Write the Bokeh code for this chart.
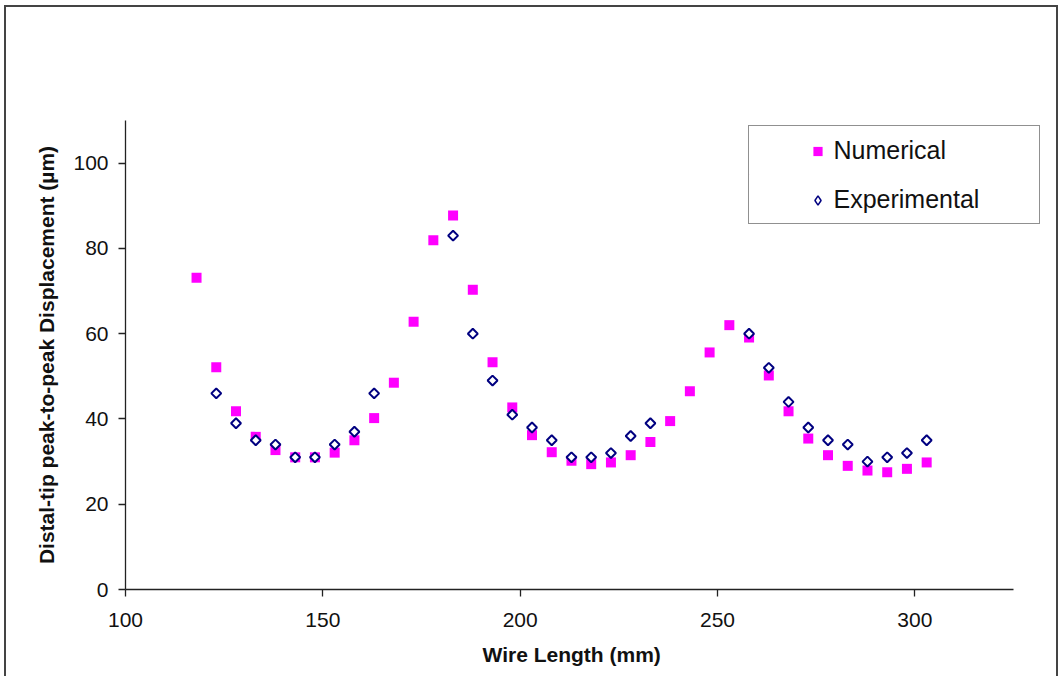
import math
from bokeh.plotting import figure
from bokeh.models import Range1d, FixedTicker, Legend, LegendItem, Title
from bokeh.embed import file_html
from bokeh.resources import INLINE

# ---- data ----
num_x = [118, 123, 128, 133, 138, 143, 148, 153, 158, 163, 168, 173, 178, 183, 188,
         193, 198, 203, 208, 213, 218, 223, 228, 233, 238, 243, 248, 253, 258, 263,
         268, 273, 278, 283, 288, 293, 298, 303]
num_y = [73.1, 52.1, 41.8, 35.8, 32.7, 31.0, 31.0, 32.1, 35.0, 40.2, 48.5, 62.8, 81.9,
         87.7, 70.3, 53.3, 42.7, 36.2, 32.2, 30.2, 29.4, 29.8, 31.5, 34.6, 39.5, 46.5,
         55.6, 62.0, 59.1, 50.2, 41.8, 35.4, 31.5, 29.0, 27.9, 27.5, 28.3, 29.8]

exp_x = [123, 128, 133, 138, 143, 148, 153, 158, 163,
         183, 188, 193, 198, 203, 208, 213, 218, 223, 228, 233,
         258, 263, 268, 273, 278, 283, 288, 293, 298, 303]
exp_y = [46, 39, 35, 34, 31, 31, 34, 37, 46,
         83, 60, 49, 41, 38, 35, 31, 31, 32, 36, 39,
         60, 52, 44, 38, 35, 34, 30, 31, 32, 35]

x_ticks = [100, 150, 200, 250, 300]
y_ticks = [0, 20, 40, 60, 80, 100]
x_axis_bounds = (100, 325)

FONT = "Liberation Sans"
INK = "#111111"

# frame extends past the axis end so the legend box (which overhangs the axis) is not clipped
X_PER_PX = 225 / 888.0
x_end = 325 + 32 * X_PER_PX

p = figure(width=1058, height=676, x_range=Range1d(100, x_end), y_range=Range1d(0, 110),
           output_backend="svg", toolbar_location=None,
           min_border_left=125, min_border_right=13, min_border_top=120, min_border_bottom=86)
p.outline_line_color = None
p.xgrid.visible = False
p.ygrid.visible = False
p.border_fill_color = None
p.background_fill_color = None
p.styles = {"box-shadow": ("inset 4px 5px 0 0 #ffffff, inset 6px 7px 0 0 #444444, "
                           "inset -2px 0 0 0 #444444")}

for ax in (p.xaxis[0], p.yaxis[0]):
    ax.axis_line_color = "#222222"
    ax.axis_line_width = 1.3
    ax.major_tick_line_color = "#222222"
    ax.major_tick_line_width = 1.3
    ax.major_tick_in = 0
    ax.major_tick_out = 7
    ax.minor_tick_line_color = None
    ax.major_label_text_font = FONT
    ax.major_label_text_font_size = "21px"
    ax.major_label_text_color = INK
    ax.axis_label_text_font = FONT
    ax.axis_label_text_font_style = "bold"
    ax.axis_label_text_font_size = "21px"
    ax.axis_label_text_color = INK

p.xaxis.bounds = x_axis_bounds
p.xaxis.ticker = FixedTicker(ticks=x_ticks)
p.yaxis.ticker = FixedTicker(ticks=y_ticks)
p.yaxis.axis_label = "Distal-tip peak-to-peak Displacement (µm)"
p.xaxis.major_label_standoff = 16
p.yaxis.major_label_standoff = 10
p.yaxis.axis_label_standoff = 12

# x-axis title as a Title below, placed so it is centred under the axis (not the wider frame)
x_title = Title(text="Wire Length (mm)", align="left", offset=357, standoff=22,
                text_font=FONT, text_font_style="bold", text_font_size="21px",
                text_color=INK)
p.add_layout(x_title, "below")

# diamond key (legend glyphs are drawn unrotated); sits hidden under the rotated squares
r_exp_key = p.scatter(exp_x, exp_y, marker="diamond", size=7.5,
                      fill_color="white", line_color="#000080", line_width=1.5)
r_num = p.scatter(num_x, num_y, marker="square", size=10, fill_color="#FF00FF",
                  line_color=None)
r_exp = p.scatter(exp_x, exp_y, marker="square", angle=math.pi / 4, size=7,
                  fill_color="white", line_color="#000080", line_width=2)

# legend box (border only)
legend_box = Legend(items=[LegendItem(label=" ", renderers=[r_num])],
                    location=(623, 365), padding=0, margin=0,
                    glyph_width=1, glyph_height=1, label_standoff=0,
                    label_width=289, label_height=97,
                    border_line_color="#222222", border_line_width=1.3,
                    background_fill_color="white", background_fill_alpha=1,
                    label_text_font_size="1px")
p.add_layout(legend_box, "center")

# legend content
legend = Legend(items=[LegendItem(label="Numerical", renderers=[r_num]),
                       LegendItem(label="Experimental", renderers=[r_exp_key])],
                location=(680.5, 375), padding=0, margin=0, spacing=20,
                glyph_width=23, glyph_height=28, label_height=28,
                label_standoff=5, border_line_alpha=0, background_fill_alpha=0,
                label_text_font=FONT, label_text_font_size="25px", label_text_color=INK)
p.add_layout(legend, "center")

open("out.html", "w").write(file_html(p, INLINE))
